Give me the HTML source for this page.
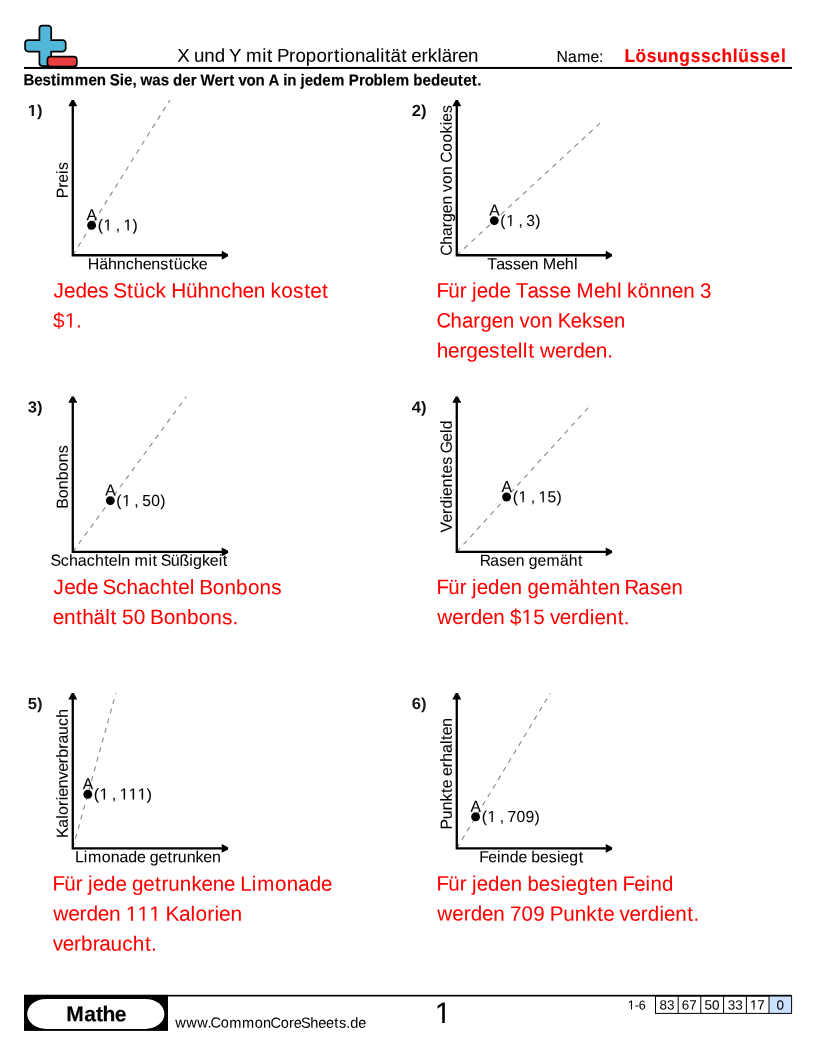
<!DOCTYPE html>
<html><head><meta charset="utf-8"><title>X und Y mit Proportionalität erklären</title>
<style>
html,body{margin:0;padding:0;background:#fff;}
svg{display:block;will-change:transform;}
text{font-family:"Liberation Sans",sans-serif;text-rendering:geometricPrecision;}
</style></head><body>
<svg width="816" height="1056" viewBox="0 0 816 1056">
<defs><clipPath id="c0" clipPathUnits="userSpaceOnUse"><path d="M-100,-100 H108.86 V100 H-100 Z M-0.03,-2.63 h3.73 v5.63 h-3.73 Z M5.89,-2.63 h2.77 v5.63 h-2.77 Z" clip-rule="evenodd"/></clipPath><clipPath id="c1" clipPathUnits="userSpaceOnUse"><path d="M-100,-100 H136.27 V100 H-100 Z M6.66,-2.20 h3.80 v5.20 h-3.80 Z M11.88,-2.20 h3.68 v5.20 h-3.68 Z M27.24,-2.20 h3.80 v5.20 h-3.80 Z M32.46,-2.20 h3.61 v5.20 h-3.61 Z" clip-rule="evenodd"/></clipPath><clipPath id="c2" clipPathUnits="userSpaceOnUse"><path d="M-100,-100 H123.28 V100 H-100 Z M12.37,-2.55 h4.65 v5.55 h-4.65 Z M18.85,-2.55 h4.48 v5.55 h-4.48 Z" clip-rule="evenodd"/></clipPath><clipPath id="c3" clipPathUnits="userSpaceOnUse"><path d="M-100,-100 H136.27 V100 H-100 Z M6.66,-2.20 h3.80 v5.20 h-3.80 Z M11.88,-2.20 h3.68 v5.20 h-3.68 Z" clip-rule="evenodd"/></clipPath><clipPath id="c4" clipPathUnits="userSpaceOnUse"><path d="M-100,-100 H145.19 V100 H-100 Z M6.59,-2.20 h3.80 v5.20 h-3.80 Z M11.81,-2.20 h3.68 v5.20 h-3.68 Z" clip-rule="evenodd"/></clipPath><clipPath id="c5" clipPathUnits="userSpaceOnUse"><path d="M-100,-100 H145.19 V100 H-100 Z M6.59,-2.20 h3.80 v5.20 h-3.80 Z M11.81,-2.20 h3.68 v5.20 h-3.68 Z M27.04,-2.20 h3.80 v5.20 h-3.80 Z M32.26,-2.20 h3.68 v5.20 h-3.68 Z" clip-rule="evenodd"/></clipPath><clipPath id="c6" clipPathUnits="userSpaceOnUse"><path d="M-100,-100 H288.60 V100 H-100 Z M86.05,-2.55 h4.65 v5.55 h-4.65 Z M92.53,-2.55 h4.48 v5.55 h-4.48 Z" clip-rule="evenodd"/></clipPath><clipPath id="c7" clipPathUnits="userSpaceOnUse"><path d="M-100,-100 H151.83 V100 H-100 Z M6.11,-2.20 h3.80 v5.20 h-3.80 Z M11.33,-2.20 h3.68 v5.20 h-3.68 Z M25.67,-2.20 h3.80 v5.20 h-3.80 Z M30.88,-2.20 h3.68 v5.20 h-3.68 Z M34.42,-2.20 h3.80 v5.20 h-3.80 Z M39.64,-2.20 h3.68 v5.20 h-3.68 Z M43.18,-2.20 h3.80 v5.20 h-3.80 Z M48.40,-2.20 h3.24 v5.20 h-3.24 Z" clip-rule="evenodd"/></clipPath><clipPath id="c8" clipPathUnits="userSpaceOnUse"><path d="M-100,-100 H276.22 V100 H-100 Z M73.00,-2.55 h4.65 v5.55 h-4.65 Z M79.49,-2.55 h4.48 v5.55 h-4.48 Z M84.61,-2.55 h4.65 v5.55 h-4.65 Z M91.10,-2.55 h4.48 v5.55 h-4.48 Z M96.22,-2.55 h4.65 v5.55 h-4.65 Z M102.70,-2.55 h4.48 v5.55 h-4.48 Z" clip-rule="evenodd"/></clipPath><clipPath id="c9" clipPathUnits="userSpaceOnUse"><path d="M-100,-100 H154.10 V100 H-100 Z M6.54,-2.20 h3.80 v5.20 h-3.80 Z M11.76,-2.20 h3.68 v5.20 h-3.68 Z" clip-rule="evenodd"/></clipPath><clipPath id="c10" clipPathUnits="userSpaceOnUse"><path d="M-100,-100 H100.00 V100 H-100 Z M1.23,-3.19 h6.14 v6.19 h-6.14 Z M9.97,-3.19 h5.91 v6.19 h-5.91 Z" clip-rule="evenodd"/></clipPath><clipPath id="c11" clipPathUnits="userSpaceOnUse"><path d="M-100,-100 H111.40 V100 H-100 Z M0.15,-1.97 h3.28 v4.97 h-3.28 Z M4.57,-1.97 h2.86 v4.97 h-2.86 Z" clip-rule="evenodd"/></clipPath><clipPath id="c12" clipPathUnits="userSpaceOnUse"><path d="M-100,-100 H107.41 V100 H-100 Z M0.02,-2.00 h3.34 v5.00 h-3.34 Z M4.53,-2.00 h3.23 v5.00 h-3.23 Z" clip-rule="evenodd"/></clipPath></defs>
<rect width="816" height="1056" fill="#fff"/>
<path d="M42.4,25.6 H48.2 A3.0,3.0 0 0 1 51.2,28.6 V40.1 H62.7 A3.0,3.0 0 0 1 65.7,43.1 V48.6 A3.0,3.0 0 0 1 62.7,51.6 H51.2 V63.099999999999994 A3.0,3.0 0 0 1 48.2,66.1 H42.4 A3.0,3.0 0 0 1 39.4,63.099999999999994 V51.6 H28.1 A3.0,3.0 0 0 1 25.1,48.6 V43.1 A3.0,3.0 0 0 1 28.1,40.1 H39.4 V28.6 A3.0,3.0 0 0 1 42.4,25.6 Z" fill="#52b7d9" stroke="#000" stroke-width="1.7"/>
<rect x="47.45" y="56.6" width="29.35" height="9.9" rx="3.0" fill="#e83e3e" stroke="#000" stroke-width="1.7"/>
<rect x="24" y="66.95" width="768" height="2" fill="#000"/>
<line x1="72.78" y1="255.25" x2="169.9" y2="100.0" stroke="#888" stroke-width="1.1" stroke-dasharray="5 5"/>
<path d="M72.78,105.25 V255.25 H222.78" fill="none" stroke="#000" stroke-width="2.3" stroke-linejoin="miter" stroke-linecap="butt"/>
<path d="M71.68,99.95 H73.88 L77.23,106.25 H68.33 Z" fill="#000"/>
<path d="M228.08,254.15 V256.35 L221.78,259.70 V250.80 Z" fill="#000"/>
<circle cx="91.6" cy="225.3" r="4.45" fill="#000"/>
<line x1="456.78" y1="255.25" x2="600.3" y2="122.9" stroke="#888" stroke-width="1.1" stroke-dasharray="5 5"/>
<path d="M456.78,105.25 V255.25 H606.78" fill="none" stroke="#000" stroke-width="2.3" stroke-linejoin="miter" stroke-linecap="butt"/>
<path d="M455.68,99.95 H457.88 L461.23,106.25 H452.33 Z" fill="#000"/>
<path d="M612.08,254.15 V256.35 L605.78,259.70 V250.80 Z" fill="#000"/>
<circle cx="494.3" cy="220.6" r="4.45" fill="#000"/>
<line x1="72.78" y1="551.85" x2="186.3" y2="396.5" stroke="#888" stroke-width="1.1" stroke-dasharray="5 5"/>
<path d="M72.78,401.85 V551.85 H222.78" fill="none" stroke="#000" stroke-width="2.3" stroke-linejoin="miter" stroke-linecap="butt"/>
<path d="M71.68,396.55 H73.88 L77.23,402.85 H68.33 Z" fill="#000"/>
<path d="M228.08,550.75 V552.95 L221.78,556.30 V547.40 Z" fill="#000"/>
<circle cx="110.3" cy="500.6" r="4.45" fill="#000"/>
<line x1="456.78" y1="551.85" x2="588.3" y2="407.6" stroke="#888" stroke-width="1.1" stroke-dasharray="5 5"/>
<path d="M456.78,401.85 V551.85 H606.78" fill="none" stroke="#000" stroke-width="2.3" stroke-linejoin="miter" stroke-linecap="butt"/>
<path d="M455.68,396.55 H457.88 L461.23,402.85 H452.33 Z" fill="#000"/>
<path d="M612.08,550.75 V552.95 L605.78,556.30 V547.40 Z" fill="#000"/>
<circle cx="506.6" cy="497.0" r="4.45" fill="#000"/>
<line x1="72.78" y1="848.4" x2="115.8" y2="693.2" stroke="#888" stroke-width="1.1" stroke-dasharray="5 5"/>
<path d="M72.78,698.4 V848.4 H222.78" fill="none" stroke="#000" stroke-width="2.3" stroke-linejoin="miter" stroke-linecap="butt"/>
<path d="M71.68,693.10 H73.88 L77.23,699.40 H68.33 Z" fill="#000"/>
<path d="M228.08,847.30 V849.50 L221.78,852.85 V843.95 Z" fill="#000"/>
<circle cx="87.8" cy="794.3" r="4.45" fill="#000"/>
<line x1="456.78" y1="848.4" x2="550.3" y2="693.2" stroke="#888" stroke-width="1.1" stroke-dasharray="5 5"/>
<path d="M456.78,698.4 V848.4 H606.78" fill="none" stroke="#000" stroke-width="2.3" stroke-linejoin="miter" stroke-linecap="butt"/>
<path d="M455.68,693.10 H457.88 L461.23,699.40 H452.33 Z" fill="#000"/>
<path d="M612.08,847.30 V849.50 L605.78,852.85 V843.95 Z" fill="#000"/>
<circle cx="475.6" cy="816.8" r="4.45" fill="#000"/>
<rect x="24" y="994.9" width="144" height="36" fill="#000"/>
<rect x="27.2" y="998.9" width="137.2" height="30" rx="19" ry="15" fill="#fff"/>
<rect x="24" y="994.8" width="767.6" height="1.7" fill="#000"/>
<rect x="769.0" y="996" width="22.600000000000023" height="17.4" fill="#cce0ff"/>
<rect x="655.5" y="996" width="136.10000000000002" height="17.4" fill="none" stroke="#000" stroke-width="1"/>
<line x1="678.2" y1="996" x2="678.2" y2="1013.9" stroke="#000" stroke-width="1"/>
<line x1="700.8" y1="996" x2="700.8" y2="1013.9" stroke="#000" stroke-width="1"/>
<line x1="723.6" y1="996" x2="723.6" y2="1013.9" stroke="#000" stroke-width="1"/>
<line x1="746.4" y1="996" x2="746.4" y2="1013.9" stroke="#000" stroke-width="1"/>
<line x1="769.0" y1="996" x2="769.0" y2="1013.9" stroke="#000" stroke-width="1"/>
<text transform="translate(177.65,61.70) skewY(0.03) scale(1.0026,1.0)" x="-0.39 11.39 16.24 26.51 36.90 47.06 51.33 62.87 68.16 84.29 89.08 94.44 98.99 111.14 117.43 127.88 138.41 148.96 155.91 161.96 166.42 176.87 187.08 197.53 202.05 206.85 212.36 223.07 228.42 233.07 243.25 249.56 259.14 263.35 273.65 279.58 289.57" font-size="18.67" fill="#000" stroke="#000" stroke-width="0.053">X und Y mit Proportionalität erklären</text>
<text transform="translate(556.61,61.90) skewY(0.03) scale(0.9869,1.0)" x="0.01 11.53 20.83 34.45 42.94" font-size="16" fill="#000" stroke="#000" stroke-width="0.072">Name:</text>
<text transform="translate(624.73,62.00) skewY(0.03) scale(0.9304,1.0)" x="-0.27 11.56 23.63 34.63 46.61 58.71 70.85 81.90 93.02 104.09 116.22 122.12 134.15 145.20 156.51 167.92" font-size="18.67" font-weight="bold" fill="#ff0000" stroke="#ff0000" stroke-width="0.167">Lösungsschlüssel</text>
<text transform="translate(23.85,85.30) skewY(0.03) scale(0.9438,1.0)" x="-0.37 10.95 19.88 28.89 34.44 39.14 53.82 68.41 77.30 86.82 91.03 101.61 106.20 115.09 119.29 123.62 136.15 145.04 153.73 157.94 167.73 176.75 182.85 187.05 202.02 210.90 217.53 223.16 227.33 235.91 245.38 254.90 259.15 270.51 274.86 279.19 288.71 293.02 297.58 306.49 316.28 325.54 339.88 344.33 355.12 361.11 370.54 380.21 384.81 394.06 408.40 412.61 422.40 431.31 441.10 449.98 459.82 465.48 474.71 480.48" font-size="16" font-weight="bold" fill="#000" stroke="#000" stroke-width="0.149">Bestimmen Sie, was der Wert von A in jedem Problem bedeutet.</text>
<text transform="translate(27.75,116.00) skewY(0.03) scale(1.0401,1.0)" x="-0.04 8.86" font-size="16" font-weight="bold" fill="#000" opacity="0.933" clip-path="url(#c0)">1)</text>
<text transform="translate(67.70,0) rotate(-90) translate(-198.00,0) skewY(0.03) scale(0.9876,1.0)" x="-0.23 10.30 15.48 24.34 28.27" font-size="16" fill="#000" stroke="#000" stroke-width="0.053">Preis</text>
<text transform="translate(87.92,269.15) skewY(0.03) scale(1.0018,1.0)" x="-0.08 11.29 20.03 28.84 37.88 46.01 54.64 63.29 72.27 80.78 85.57 94.60 102.83 110.58" font-size="16" fill="#000" stroke="#000" stroke-width="0.051">Hähnchenstücke</text>
<text transform="translate(86.57,220.20) skewY(0.03) scale(0.9780,1.0)" x="0.00" font-size="16" fill="#000" stroke="#000" stroke-width="0.079">A</text>
<text transform="translate(97.20,230.60) skewY(0.03) scale(0.9755,1.0)" x="0.48 6.44 15.31 18.96 22.60 27.02 36.27" font-size="16" fill="#000" stroke="#000" stroke-width="0.088" clip-path="url(#c1)">(1 , 1)</text>
<text transform="translate(52.90,297.50) skewY(0.03) scale(1.0008,1.0)" x="0.53 11.19 22.56 33.93 45.39 55.64 60.34 73.96 80.19 91.94 102.65 112.80 118.17 133.04 144.49 155.95 167.72 178.29 189.53 200.78 211.99 217.52 228.13 240.00 251.08 257.09 268.89" font-size="20.8" fill="#ff0000" stroke="#ff0000" stroke-width="0.053">Jedes Stück Hühnchen kostet</text>
<text transform="translate(52.90,327.50) skewY(0.03) scale(0.9982,1.0)" x="0.07 11.78 23.28" font-size="20.8" fill="#ff0000" opacity="0.958" clip-path="url(#c2)">$1.</text>
<text transform="translate(411.75,116.00) skewY(0.03) scale(1.0401,1.0)" x="-0.04 8.86" font-size="16" font-weight="bold" fill="#000" opacity="0.949">2)</text>
<text transform="translate(451.70,0) rotate(-90) translate(-255.32,0) skewY(0.03) scale(0.9778,1.0)" x="-0.45 10.71 19.67 28.67 34.18 43.04 51.89 60.67 64.88 73.00 82.13 90.90 94.70 106.02 115.36 124.62 132.98 136.63 145.64" font-size="16" fill="#000" stroke="#000" stroke-width="0.052">Chargen von Cookies</text>
<text transform="translate(487.28,269.15) skewY(0.03) scale(1.0057,1.0)" x="-0.14 8.93 17.38 25.59 33.46 42.07 50.67 55.14 68.52 77.12 86.11" font-size="16" fill="#000" stroke="#000" stroke-width="0.053">Tassen Mehl</text>
<text transform="translate(489.28,215.50) skewY(0.03) scale(0.9780,1.0)" x="0.00" font-size="16" fill="#000" stroke="#000" stroke-width="0.073">A</text>
<text transform="translate(499.90,225.90) skewY(0.03) scale(0.9755,1.0)" x="0.48 6.44 15.31 18.96 22.60 27.02 36.27" font-size="16" fill="#000" stroke="#000" stroke-width="0.058" clip-path="url(#c3)">(1 , 3)</text>
<text transform="translate(436.90,297.50) skewY(0.03) scale(0.9859,1.0)" x="-0.52 11.58 23.18 29.94 35.66 40.31 51.85 63.39 74.50 79.94 91.96 103.15 114.04 124.49 135.59 141.65 159.33 170.73 182.58 187.18 192.84 203.62 215.46 227.11 238.53 249.95 261.28 266.93" font-size="20.8" fill="#ff0000" stroke="#ff0000" stroke-width="0.061">Für jede Tasse Mehl können 3</text>
<text transform="translate(436.90,327.50) skewY(0.03) scale(0.9707,1.0)" x="-0.54 14.06 25.79 37.57 44.80 56.40 68.00 79.47 85.00 95.64 107.59 119.06 124.39 137.81 149.37 160.33 170.96 182.56" font-size="20.8" fill="#ff0000" stroke="#ff0000" stroke-width="0.068">Chargen von Keksen</text>
<text transform="translate(436.90,357.50) skewY(0.03) scale(1.0012,1.0)" x="-0.06 11.17 22.52 29.45 40.70 52.15 63.22 69.23 80.74 85.79 91.14 97.12 102.88 117.92 129.27 136.23 147.50 158.74 170.12" font-size="20.8" fill="#ff0000" stroke="#ff0000" stroke-width="0.033">hergestellt werden.</text>
<text transform="translate(27.75,412.55) skewY(0.03) scale(1.0401,1.0)" x="-0.04 8.86" font-size="16" font-weight="bold" fill="#000" opacity="0.946">3)</text>
<text transform="translate(67.70,0) rotate(-90) translate(-508.31,0) skewY(0.03) scale(0.9995,1.0)" x="-0.35 10.09 19.07 27.99 37.05 46.03 55.03" font-size="16" fill="#000" stroke="#000" stroke-width="0.053">Bonbons</text>
<text transform="translate(51.20,565.75) skewY(0.03) scale(1.0018,1.0)" x="-0.59 9.66 17.79 26.53 35.51 43.64 52.87 57.50 66.34 70.02 78.64 83.18 97.02 101.13 105.72 109.33 119.36 128.07 137.87 141.63 150.61 158.36 167.13 171.24" font-size="16" fill="#000" stroke="#000" stroke-width="0.055">Schachteln mit Süßigkeit</text>
<text transform="translate(105.27,495.50) skewY(0.03) scale(0.9780,1.0)" x="0.00" font-size="16" fill="#000" stroke="#000" stroke-width="0.073">A</text>
<text transform="translate(115.90,505.90) skewY(0.03) scale(0.9817,1.0)" x="0.46 6.37 15.20 18.82 22.45 26.82 35.98 45.19" font-size="16" fill="#000" stroke="#000" stroke-width="0.059" clip-path="url(#c4)">(1 , 50)</text>
<text transform="translate(52.90,594.05) skewY(0.03) scale(0.9947,1.0)" x="0.57 11.30 22.74 34.18 45.21 49.97 63.38 74.03 85.48 97.22 107.87 119.94 126.01 137.57 142.13 147.19 160.82 172.55 184.20 196.03 207.77 219.52" font-size="20.8" fill="#ff0000" stroke="#ff0000" stroke-width="0.037">Jede Schachtel Bonbons</text>
<text transform="translate(52.90,624.05) skewY(0.03) scale(1.0009,1.0)" x="-0.27 10.97 23.01 29.23 40.61 52.26 57.61 63.58 69.10 80.78 92.09 97.10 110.65 122.31 133.89 145.65 157.31 168.99 179.41" font-size="20.8" fill="#ff0000" stroke="#ff0000" stroke-width="0.039">enthält 50 Bonbons.</text>
<text transform="translate(411.75,412.55) skewY(0.03) scale(1.0401,1.0)" x="-0.04 8.86" font-size="16" font-weight="bold" fill="#000" opacity="0.943">4)</text>
<text transform="translate(451.70,0) rotate(-90) translate(-532.38,0) skewY(0.03) scale(0.9844,1.0)" x="-0.16 10.03 18.71 24.18 33.34 36.95 45.75 55.12 59.87 68.82 76.81 80.36 91.97 100.93 104.82" font-size="16" fill="#000" stroke="#000" stroke-width="0.097">Verdientes Geld</text>
<text transform="translate(480.44,565.75) skewY(0.03) scale(0.9836,1.0)" x="-0.77 10.00 19.07 27.13 35.93 44.67 49.03 57.91 67.14 80.91 89.81 99.18" font-size="16" fill="#000" stroke="#000" stroke-width="0.049">Rasen gemäht</text>
<text transform="translate(501.58,491.90) skewY(0.03) scale(0.9780,1.0)" x="0.00" font-size="16" fill="#000" stroke="#000" stroke-width="0.100">A</text>
<text transform="translate(512.20,502.30) skewY(0.03) scale(0.9817,1.0)" x="0.46 6.37 15.20 18.82 22.45 26.82 35.98 45.19" font-size="16" fill="#000" stroke="#000" stroke-width="0.069" clip-path="url(#c5)">(1 , 15)</text>
<text transform="translate(436.90,594.05) skewY(0.03) scale(0.9757,1.0)" x="-0.46 11.76 23.45 30.28 36.06 40.79 52.45 64.11 75.65 87.08 92.81 104.45 116.57 134.59 146.26 158.51 164.76 176.30 187.72 192.31 206.41 218.29 228.86 240.40" font-size="20.8" fill="#ff0000" stroke="#ff0000" stroke-width="0.059">Für jeden gemähten Rasen</text>
<text transform="translate(436.90,624.05) skewY(0.03) scale(0.9913,1.0)" x="0.37 15.55 26.99 34.04 45.42 56.78 68.07 73.67 85.46 97.26 108.65 114.02 124.02 135.39 142.44 154.29 158.93 170.28 182.40 188.60" font-size="20.8" fill="#ff0000" stroke="#ff0000" stroke-width="0.021" clip-path="url(#c6)">werden $15 verdient.</text>
<text transform="translate(27.75,709.10) skewY(0.03) scale(1.0401,1.0)" x="-0.04 8.86" font-size="16" font-weight="bold" fill="#000" opacity="0.913">5)</text>
<text transform="translate(67.70,0) rotate(-90) translate(-837.72,0) skewY(0.03) scale(0.9915,1.0)" x="-0.27 10.06 19.09 22.98 32.10 37.68 41.25 49.99 58.80 66.48 75.23 80.71 89.76 94.94 103.62 112.74 120.96" font-size="16" fill="#000" stroke="#000" stroke-width="0.061">Kalorienverbrauch</text>
<text transform="translate(75.05,862.30) skewY(0.03) scale(0.9990,1.0)" x="-0.14 8.80 12.88 26.68 35.67 44.45 53.32 62.09 70.55 74.80 83.55 92.64 97.53 102.87 111.71 120.64 128.42 137.01" font-size="16" fill="#000" stroke="#000" stroke-width="0.042">Limonade getrunken</text>
<text transform="translate(82.77,789.20) skewY(0.03) scale(0.9780,1.0)" x="0.00" font-size="16" fill="#000" stroke="#000" stroke-width="0.059">A</text>
<text transform="translate(93.40,799.60) skewY(0.03) scale(1.0269,1.0)" x="0.32 5.89 14.43 17.90 21.36 25.45 34.20 42.96 51.83" font-size="16" fill="#000" stroke="#000" stroke-width="0.036" clip-path="url(#c7)">(1 , 111)</text>
<text transform="translate(52.90,890.60) skewY(0.03) scale(0.9861,1.0)" x="-0.52 11.58 23.17 29.94 35.65 40.30 51.84 63.38 74.48 80.12 91.64 103.58 110.03 117.09 128.73 140.49 150.74 162.05 173.47 184.57 189.97 201.69 207.15 225.30 237.14 248.70 260.38 271.92" font-size="20.8" fill="#ff0000" stroke="#ff0000" stroke-width="0.052">Für jede getrunkene Limonade</text>
<text transform="translate(52.90,920.60) skewY(0.03) scale(1.0072,1.0)" x="0.25 15.21 26.51 33.41 44.61 55.79 66.95 72.42 84.03 95.63 106.89 111.88 125.13 136.73 141.66 153.37 160.53 165.04 176.22" font-size="20.8" fill="#ff0000" stroke="#ff0000" stroke-width="0.019" clip-path="url(#c8)">werden 111 Kalorien</text>
<text transform="translate(52.90,950.60) skewY(0.03) scale(0.9972,1.0)" x="-0.15 9.78 21.10 28.17 39.88 46.57 57.79 69.58 80.20 92.25 98.41" font-size="20.8" fill="#ff0000" stroke="#ff0000" stroke-width="0.038">verbraucht.</text>
<text transform="translate(411.75,709.10) skewY(0.03) scale(1.0401,1.0)" x="-0.04 8.86" font-size="16" font-weight="bold" fill="#000" opacity="0.910">6)</text>
<text transform="translate(451.70,0) rotate(-90) translate(-829.24,0) skewY(0.03) scale(0.9941,1.0)" x="-0.26 10.14 19.02 27.99 36.48 41.16 49.65 53.68 62.46 67.84 76.65 85.65 89.80 94.47 103.18" font-size="16" fill="#000" stroke="#000" stroke-width="0.090">Punkte erhalten</text>
<text transform="translate(479.77,862.30) skewY(0.03) scale(0.9879,1.0)" x="-0.41 8.71 17.57 21.34 30.38 39.24 47.77 52.10 60.94 69.86 78.23 81.82 90.67 100.09" font-size="16" fill="#000" stroke="#000" stroke-width="0.046">Feinde besiegt</text>
<text transform="translate(470.58,811.70) skewY(0.03) scale(0.9780,1.0)" x="0.00" font-size="16" fill="#000" stroke="#000" stroke-width="0.083">A</text>
<text transform="translate(481.20,822.10) skewY(0.03) scale(0.9860,1.0)" x="0.44 6.32 15.12 18.73 22.34 26.69 35.81 44.93 54.10" font-size="16" fill="#000" stroke="#000" stroke-width="0.029" clip-path="url(#c9)">(1 , 709)</text>
<text transform="translate(436.90,890.60) skewY(0.03) scale(0.9792,1.0)" x="-0.48 11.70 23.36 30.17 35.92 40.62 52.24 63.86 75.36 86.76 92.46 104.06 115.75 126.71 131.45 143.04 155.38 161.59 173.09 184.48 189.52 201.49 213.06 218.04 229.89" font-size="20.8" fill="#ff0000" stroke="#ff0000" stroke-width="0.054">Für jeden besiegten Feind</text>
<text transform="translate(436.90,920.60) skewY(0.03) scale(0.9901,1.0)" x="0.38 15.57 27.02 34.09 45.48 56.85 68.15 73.77 85.57 97.38 108.78 113.97 127.54 139.13 150.83 161.91 168.02 179.09 184.47 194.48 205.86 212.92 224.78 229.43 240.80 252.93 259.13" font-size="20.8" fill="#ff0000" stroke="#ff0000" stroke-width="0.046">werden 709 Punkte verdient.</text>
<text transform="translate(65.71,1021.20) skewY(0.03) scale(0.9861,1.0)" x="0.58 18.79 30.62 37.37 49.85" font-size="21.33" font-weight="bold" fill="#000" stroke="#000" stroke-width="0.168">Mathe</text>
<text transform="translate(174.94,1027.60) skewY(0.03) scale(0.9943,1.0)" x="0.25 11.33 22.42 32.72 35.76 45.99 54.63 67.57 80.28 88.56 96.22 106.44 114.79 119.49 126.90 136.16 144.13 151.96 160.32 164.91 172.30 176.36 184.43" font-size="14.67" fill="#000" stroke="#000" stroke-width="0.026">www.CommonCoreSheets.de</text>
<text transform="translate(434.73,1022.90) skewY(0.03) scale(1.0105,1.0)" x="0.00" font-size="29.33" fill="#000" stroke="#000" stroke-width="0.182" clip-path="url(#c10)">1</text>
<text transform="translate(627.64,1009.50) skewY(0.03) scale(0.9689,1.0)" x="0.16 7.23 11.40" font-size="13.0" fill="#000" stroke="#000" stroke-width="0.056" clip-path="url(#c11)">1-6</text>
<text transform="translate(659.46,1009.50) skewY(0.03) scale(1.0105,1.0)" x="-0.00 7.41" font-size="13.33" fill="#000" opacity="0.973">83</text>
<text transform="translate(681.80,1009.50) skewY(0.03) scale(1.0105,1.0)" x="-0.00 7.41" font-size="13.33" fill="#000" stroke="#000" stroke-width="0.015">67</text>
<text transform="translate(704.60,1009.50) skewY(0.03) scale(1.0105,1.0)" x="-0.00 7.41" font-size="13.33" fill="#000" stroke="#000" stroke-width="0.066">50</text>
<text transform="translate(727.71,1009.50) skewY(0.03) scale(1.0105,1.0)" x="-0.00 7.41" font-size="13.33" fill="#000" opacity="0.979">33</text>
<text transform="translate(749.89,1009.50) skewY(0.03) scale(1.0105,1.0)" x="-0.00 7.41" font-size="13.33" fill="#000" stroke="#000" stroke-width="0.057" clip-path="url(#c12)">17</text>
<text transform="translate(776.55,1009.50) skewY(0.03) scale(1.0105,1.0)" x="-0.00" font-size="13.33" fill="#000" stroke="#000" stroke-width="0.062">0</text>
</svg>
</body></html>
